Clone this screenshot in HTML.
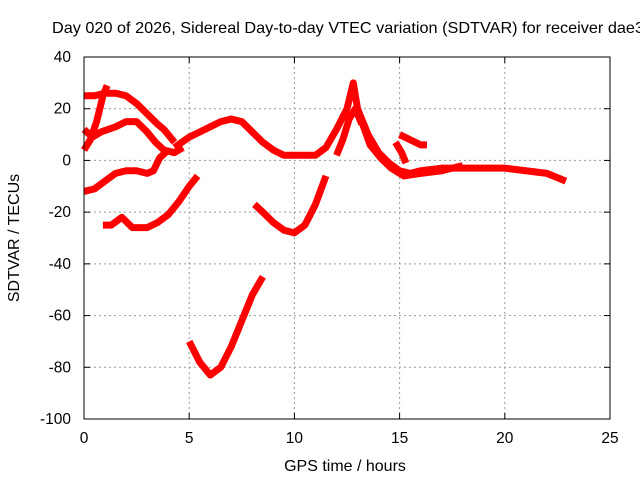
<!DOCTYPE html>
<html><head><meta charset="utf-8"><style>
body{margin:0;background:#fff}
svg{display:block;font-family:"Liberation Sans",sans-serif}
</style></head><body>
<svg id="chart" width="640" height="480">
<text x="52" y="33" font-size="16" textLength="592" lengthAdjust="spacingAndGlyphs">Day 020 of 2026, Sidereal Day-to-day VTEC variation (SDTVAR) for receiver dae3</text>
<text x="345" y="471" font-size="16" text-anchor="middle">GPS time / hours</text>
<text transform="translate(19,238) rotate(-90)" font-size="16" text-anchor="middle">SDTVAR / TECUs</text>
<g id="grid"></g><g id="marks"></g>
<rect x="84" y="57" width="526" height="362" fill="none" stroke="#000"/>
</svg>
<script>
const xTicks=[0,5,10,15,20,25];
const yTicks=[40,20,0,-20,-40,-60,-80,-100];
const seriesA=[[0,4],[0.3,8],[0.6,15],[0.9,25],[1.1,29]];
const seriesB=[[0,25],[0.5,25],[1,26],[1.5,26],[2,25],[2.5,22],[3,18],[3.5,14],[3.8,12],[4.3,7]];
const seriesC=[[0,12],[0.4,9],[0.8,11],[1.5,13],[2,15],[2.5,15],[3,11],[3.4,7],[3.8,4],[4.3,3],[4.7,5]];
const seriesD=[[0,-12],[0.5,-11],[1,-8],[1.5,-5],[2,-4],[2.5,-4],[3,-5],[3.3,-4],[3.6,1],[4,4]];
const seriesE=[[0.9,-25],[1.3,-25],[1.8,-22],[2.3,-26],[3,-26],[3.5,-24],[4,-21],[4.5,-16],[5,-10],[5.4,-6]];
const seriesF=[[5,-70],[5.5,-78],[6,-83],[6.5,-80],[7,-72],[7.5,-62],[8,-52],[8.5,-45]];
const seriesG=[[8.1,-17],[8.5,-20],[9,-24],[9.5,-27],[10,-28],[10.5,-25],[11,-17],[11.5,-6]];
const seriesMain=[[4.3,5],[5,9],[5.5,11],[6,13],[6.5,15],[7,16],[7.5,15],[8,11],[8.5,7],[9,4],[9.5,2],[10,2],[10.5,2],[11,2],[11.5,5],[12,12],[12.5,20],[12.8,30],[13,20],[13.5,10],[14,3],[14.5,-1],[15,-4],[15.5,-5],[16,-4],[17,-3],[18,-3],[19,-3],[20,-3],[21,-4],[22,-5],[22.9,-8]];
const seriesH=[[12,2],[12.3,8],[12.6,16],[12.9,20],[13.2,14]];
const seriesI=[[15,10],[15.5,8],[16,6],[16.3,6]];
const seriesJ=[[14.8,7],[15.1,3],[15.3,-1]];
const seriesK=[[13.2,15],[13.6,6],[14.1,1],[14.6,-3],[15.2,-6],[16,-5],[17,-4],[18,-2]];
const allSeries=[seriesA,seriesB,seriesC,seriesD,seriesE,seriesF,seriesG,seriesMain,seriesH,seriesI,seriesJ,seriesK];
const X=h=>84+h*526/25;
const Y=v=>57+(40-v)*362/140;
const ns="http://www.w3.org/2000/svg";
const svg=document.getElementById('chart');
const grid=document.getElementById('grid');
const marks=document.getElementById('marks');
function mk(t,a,p){const e=document.createElementNS(ns,t);for(const k in a)e.setAttribute(k,a[k]);p.appendChild(e);return e;}
xTicks.forEach(t=>{
 const x=X(t);
 if(t>0&&t<25){const g=mk('line',{x1:x,x2:x,y1:57,y2:419,stroke:'#999','stroke-dasharray':'2,3'},grid);
 
 }
 mk('line',{x1:x,x2:x,y1:419,y2:413,stroke:'#000'},grid);
 mk('line',{x1:x,x2:x,y1:57,y2:63,stroke:'#000'},grid);
 const l=mk('text',{x:x,y:443,'font-size':15.5,'text-anchor':'middle'},svg);
 l.textContent=t;
 
 
});
yTicks.forEach(t=>{
 const y=Y(t);
 if(t<40&&t>-100){const g=mk('line',{x1:84,x2:610,y1:y,y2:y,stroke:'#999','stroke-dasharray':'2,3'},grid);
 
 }
 mk('line',{x1:84,x2:90,y1:y,y2:y,stroke:'#000'},grid);
 mk('line',{x1:604,x2:610,y1:y,y2:y,stroke:'#000'},grid);
 const l=mk('text',{x:71,y:y+5,'font-size':15.5,'text-anchor':'end'},svg);
 l.textContent=t;
 
 
});
allSeries.forEach(s=>{
 const p=mk('polyline',{points:s.map(d=>X(d[0])+','+Y(d[1])).join(' '),fill:'none',stroke:'#f00','stroke-width':7,'stroke-linejoin':'round','stroke-linecap':'butt'},marks);
 
 
});
</script>
</body></html>
